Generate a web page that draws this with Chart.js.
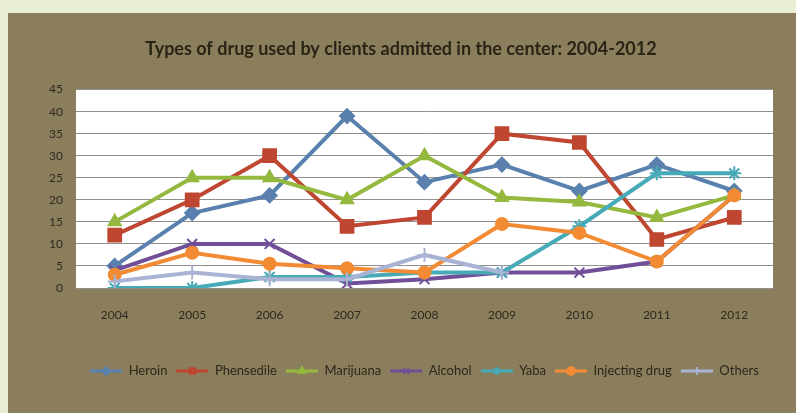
<!DOCTYPE html>
<html>
<head>
<meta charset="utf-8">
<script src="https://cdn.jsdelivr.net/npm/chart.js@4/dist/chart.umd.min.js"></script>
<style>
  html, body { margin: 0; padding: 0; background: #e8edd3; }
  canvas { display: block; }
</style>
</head>
<body>
<canvas id="drugChart" width="796" height="413"></canvas>
<script>
const years = ['2004', '2005', '2006', '2007', '2008', '2009', '2010', '2011', '2012'];
const heroin = [5, 17, 21, 39, 24, 28, 22, 28, 22];
const phensedile = [12, 20, 30, 14, 16, 35, 33, 11, 16];
const marijuana = [15, 25, 25, 20, 30, 20.5, 19.5, 16, 21];
const alcohol = [4, 10, 10, 1, 2, 3.5, 3.5, 6, 21];
const yaba = [0, 0, 2.5, 2.5, 3.5, 3.5, 14, 26, 26];
const injecting = [3, 8, 5.5, 4.5, 3.5, 14.5, 12.5, 6, 21];
const others = [1.5, 3.5, 2, 2, 7.5, 3.5, null, null, null];
const yTicks = [0, 5, 10, 15, 20, 25, 30, 35, 40, 45];

const fontFamily = 'Lato, "Open Sans", sans-serif';

function series(label, data, color, style, radius, order) {
  return {
    label: label,
    data: data,
    order: order, // later series sit on top, like the spreadsheet
    borderColor: color,
    backgroundColor: color,
    borderWidth: 4,
    pointStyle: style,
    pointRadius: radius,
    pointBorderWidth: 2,
    pointBackgroundColor: color,
    pointBorderColor: color,
    tension: 0,
    spanGaps: false
  };
}

const datasets = [
  series('Heroin', heroin, '#5a80ae', 'rectRot', 7, 6),
  series('Phensedile', phensedile, '#bf4630', 'rect', 9, 5),
  series('Marijuana', marijuana, '#94b93e', 'triangle', 7, 4),
  series('Alcohol', alcohol, '#714f98', 'crossRot', 7, 3),
  series('Yaba', yaba, '#47aab7', 'star', 7, 2),
  series('Injecting drug', injecting, '#f28b33', 'circle', 6, 1),
  series('Others', others, '#a9b3d4', 'cross', 7, 0)
];

// small line + marker icon like the spreadsheet legend
function legendIcon(ds) {
  const c = document.createElement('canvas');
  c.width = 32;
  c.height = 12;
  const g = c.getContext('2d');
  g.strokeStyle = ds.borderColor;
  g.lineWidth = 3;
  g.beginPath();
  g.moveTo(0, 6);
  g.lineTo(32, 6);
  g.stroke();
  g.fillStyle = ds.borderColor;
  g.lineWidth = 1.5;
  Chart.helpers.drawPoint(g, { pointStyle: ds.pointStyle, radius: 4, rotation: 0, borderWidth: 1.5 }, 16, 6);
  g.fill();
  g.stroke();
  return c;
}

const backdrop = {
  id: 'backdrop',
  beforeDraw(chart) {
    const { ctx, chartArea } = chart;
    ctx.save();
    ctx.fillStyle = '#8b7e5d';
    ctx.fillRect(8, 13, chart.width - 8, chart.height - 13);
    ctx.fillStyle = '#ffffff';
    ctx.fillRect(chartArea.left, chartArea.top, chartArea.right - chartArea.left, chartArea.bottom - chartArea.top);
    ctx.restore();
  }
};

new Chart(document.getElementById('drugChart'), {
  type: 'line',
  data: { labels: years, datasets: datasets },
  plugins: [backdrop],
  options: {
    responsive: false,
    animation: false,
    devicePixelRatio: 1,
    layout: { padding: { left: 29, right: 23, top: 0, bottom: 25.5 } },
    plugins: {
      title: {
        display: true,
        text: 'Types of drug used by clients admitted in the center: 2004-2012',
        color: '#2a2416',
        font: { family: fontFamily, size: 18, weight: 'bold', lineHeight: 1.2 },
        padding: { top: 38, bottom: 30 }
      },
      legend: {
        position: 'bottom',
        fullSize: false,
        labels: {
          color: '#2c271b',
          font: { family: fontFamily, size: 13 },
          usePointStyle: true,
          pointStyleWidth: 32,
          padding: 9,
          sort: (a, b) => a.datasetIndex - b.datasetIndex,
          generateLabels(chart) {
            const items = Chart.defaults.plugins.legend.labels.generateLabels(chart);
            items.forEach(item => { item.pointStyle = legendIcon(chart.data.datasets[item.datasetIndex]); });
            return items;
          }
        }
      },
      tooltip: { enabled: false }
    },
    scales: {
      x: {
        offset: true,
        grid: { display: false, drawTicks: false },
        border: { display: false },
        ticks: { color: '#2e2a20', font: { family: fontFamily, size: 12 }, padding: 20, maxRotation: 0 },
        afterFit(scale) { scale.height = 67.5; }
      },
      y: {
        min: 0,
        max: 45,
        afterBuildTicks(scale) { scale.ticks = yTicks.map(v => ({ value: v })); },
        grid: { color: '#8f8f8f', lineWidth: 1, drawTicks: false },
        border: { display: false },
        ticks: { color: '#2e2a20', font: { family: fontFamily, size: 12 }, padding: 13 },
        afterFit(scale) { scale.width = 47; }
      }
    }
  }
});
</script>
</body>
</html>
